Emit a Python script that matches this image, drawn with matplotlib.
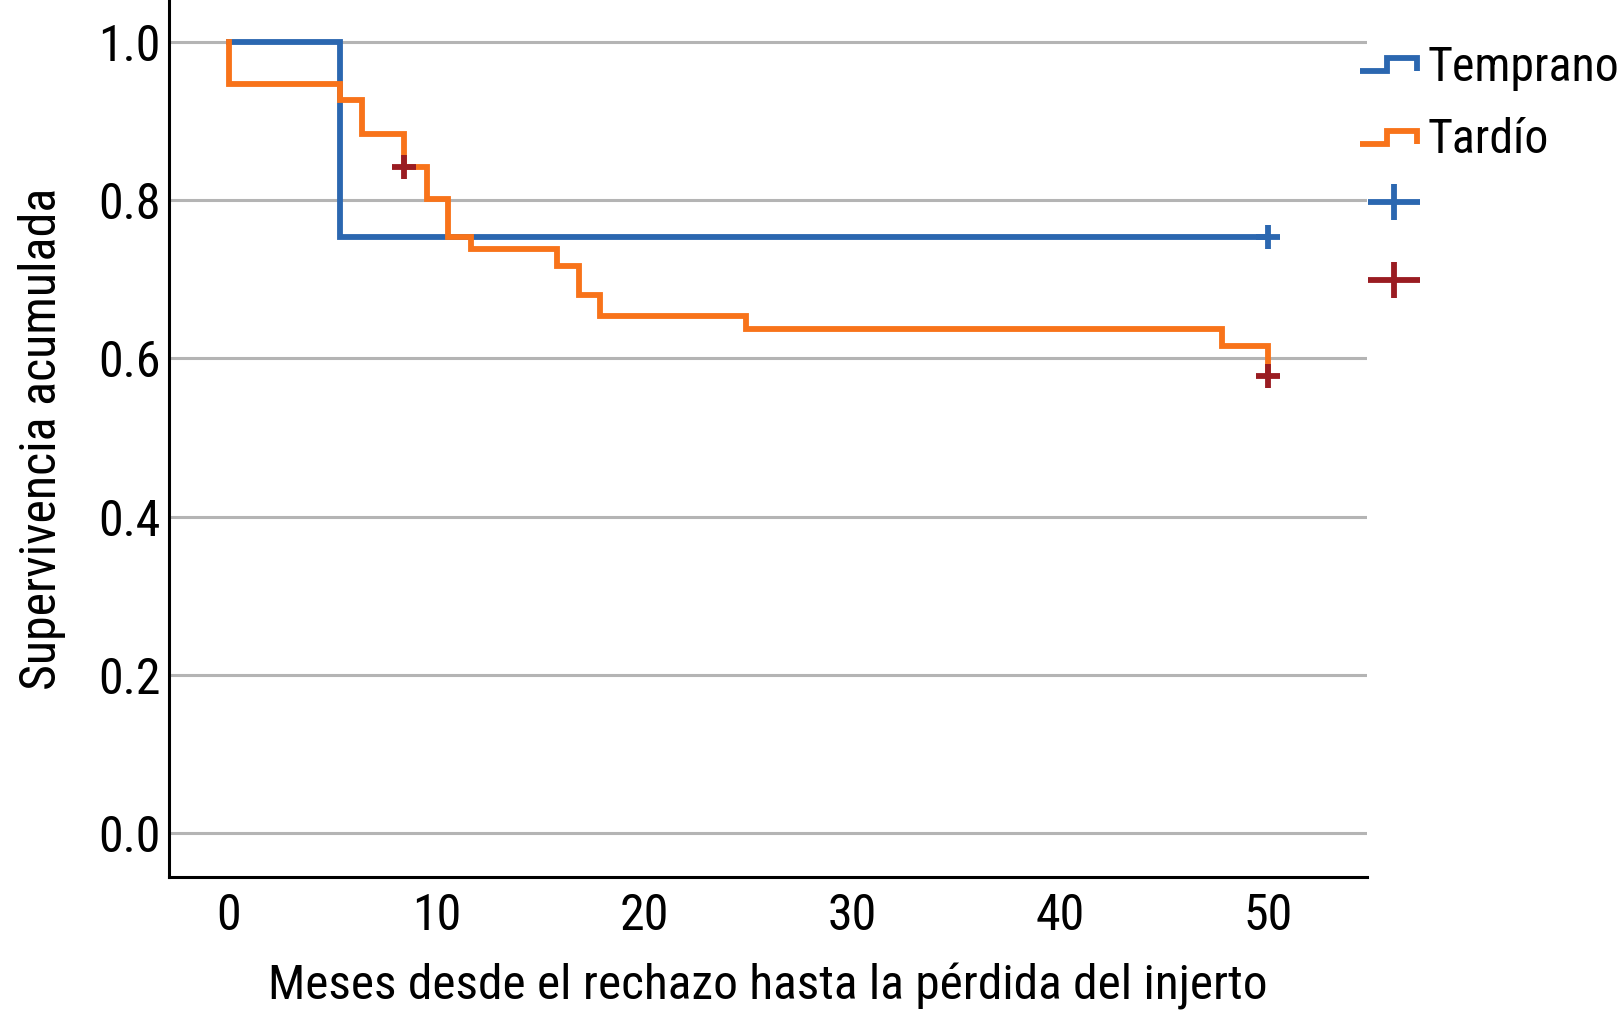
import matplotlib
matplotlib.use("Agg")
import matplotlib.pyplot as plt
from matplotlib.lines import Line2D
from matplotlib.path import Path
from matplotlib.legend_handler import HandlerBase

plt.rcParams['font.family'] = ['Roboto Condensed', 'Liberation Sans Narrow', 'Arial Narrow',
                               'Liberation Sans', 'DejaVu Sans']

# ---- data ----
temprano_t = [0.0, 5.34, 50.0]
temprano_s = [1.0, 0.753, 0.753]
tardio_t = [0.0, 0.0, 5.34, 6.38, 8.42, 9.51, 10.56, 11.63, 15.77, 16.84, 17.85, 24.9, 47.8, 50.0]
tardio_s = [1.0, 0.947, 0.926, 0.884, 0.842, 0.801, 0.753, 0.738, 0.717, 0.680, 0.653, 0.637, 0.616, 0.578]
cens_temprano_t = [50.0]
cens_temprano_s = [0.753]
cens_tardio_t = [8.42, 50.0]
cens_tardio_s = [0.842, 0.578]
labels = ["Temprano", "Tardío"]
xticks = [0, 10, 20, 30, 40, 50]
yticks = [0.0, 0.2, 0.4, 0.6, 0.8, 1.0]

BLUE = '#2b67b0'
ORANGE = '#f8731a'
DARKRED = '#9a1c22'
GRID = '#b4b4b4'
W, H = 1618, 1024

fig = plt.figure(figsize=(W / 100, H / 100), dpi=100)
ax = fig.add_axes([169 / W, 1 - 877 / H, (1367 - 169) / W, 877 / H])

for yv in yticks:
    ax.axhline(yv, color=GRID, lw=2.2, zorder=0)

ax.step(temprano_t, temprano_s, where='post', color=BLUE, lw=4.2, zorder=2,
        solid_joinstyle='miter')
ax.step(tardio_t, tardio_s, where='post', color=ORANGE, lw=4.2, zorder=3,
        solid_joinstyle='miter')
ax.plot(cens_temprano_t, cens_temprano_s, ls='none', marker='+', ms=17, mew=4.2,
        color=BLUE, zorder=4)
ax.plot(cens_tardio_t, cens_tardio_s, ls='none', marker='+', ms=17, mew=4.2,
        color=DARKRED, zorder=4)

ax.set_xlim(-2.89, 54.77)
ax.set_ylim(-0.0556, 1.053)
ax.set_xticks(xticks)
ax.set_xticklabels([str(v) for v in xticks])
ax.set_yticks(yticks)
ax.set_yticklabels([f"{v:.1f}" for v in yticks])
ax.tick_params(axis='both', length=0, labelsize=36)
ax.tick_params(axis='x', pad=11)
ax.tick_params(axis='y', pad=6)
for s in ['top', 'right']:
    ax.spines[s].set_visible(False)
for s in ['left', 'bottom']:
    ax.spines[s].set_linewidth(2.2)
    ax.spines[s].set_color('black')

ax.set_xlabel("Meses desde el rechazo hasta la pérdida del injerto", fontsize=35.6, labelpad=16)
ax.set_ylabel("Supervivencia acumulada", fontsize=36, labelpad=23)


class StepHandler(HandlerBase):
    def create_artists(self, legend, orig_handle, xdescent, ydescent, width, height,
                       fontsize, trans):
        x0 = -xdescent
        y0 = -ydescent
        px = fontsize / 72 * 100
        c = y0 + height / 2
        lo = c - 7 / px * fontsize
        hi = c + 6 / px * fontsize
        xs = [x0, x0 + 0.48 * width, x0 + 0.48 * width, x0 + width, x0 + width]
        ys = [lo, lo, hi, hi, lo]
        ln = Line2D(xs, ys, color=orig_handle.get_color(), lw=orig_handle.get_linewidth(),
                    solid_joinstyle='miter', solid_capstyle='butt')
        ln.set_transform(trans)
        return [ln]


h1 = Line2D([], [], color=BLUE, lw=4.2)
h2 = Line2D([], [], color=ORANGE, lw=4.2)
fig.legend([h1, h2], labels, loc='upper left',
           bbox_to_anchor=(1360 / W, 1 - 45 / H), frameon=False, fontsize=34.5,
           handlelength=1.18, handletextpad=0.22, labelspacing=0.55,
           borderaxespad=0, borderpad=0,
           handler_map={h1: StepHandler(), h2: StepHandler()})

# censored-case keys (no label), wide plus shape
wide_plus = Path([(-1.0, 0.0), (1.0, 0.0), (0.0, -0.71), (0.0, 0.71)],
                 [Path.MOVETO, Path.LINETO, Path.MOVETO, Path.LINETO])
for col, ypix in [(BLUE, 202), (DARKRED, 280)]:
    fig.add_artist(Line2D([1394 / W], [1 - ypix / H], transform=fig.transFigure,
                          ls='none', marker=wide_plus, ms=37, mew=4.2, color=col))

fig.savefig("out.png", dpi=100)
